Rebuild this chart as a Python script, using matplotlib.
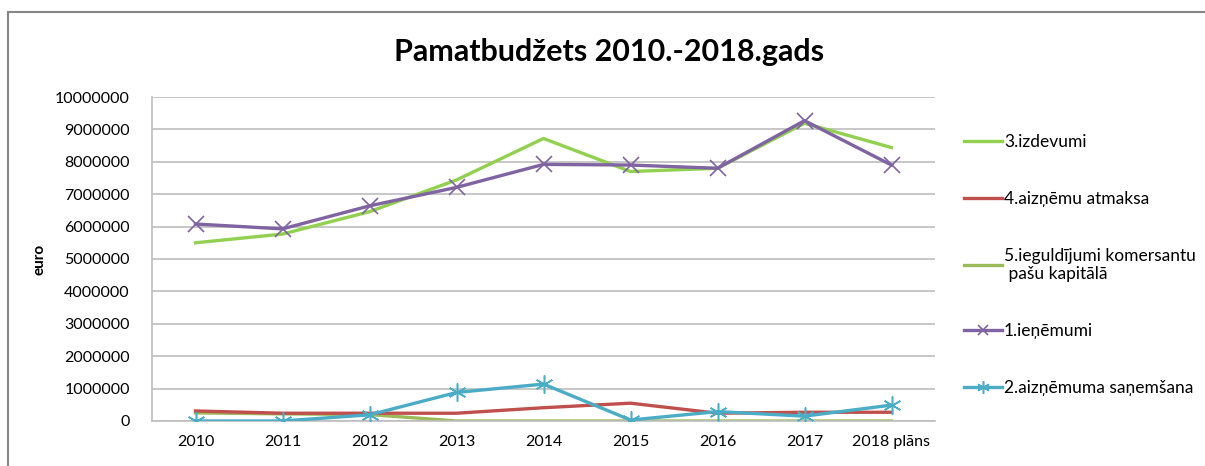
import matplotlib
matplotlib.use("Agg")
import matplotlib.pyplot as plt
from matplotlib.patches import Rectangle

plt.rcParams["font.family"] = ["Lato", "DejaVu Sans"]

years = ["2010", "2011", "2012", "2013", "2014", "2015", "2016", "2017", "2018 plāns"]

izdevumi = [5500000, 5770000, 6460000, 7440000, 8720000, 7700000, 7800000, 9190000, 8440000]
atmaksa = [310000, 240000, 240000, 240000, 410000, 550000, 240000, 270000, 270000]
ieguldijumi = [250000, 220000, 200000, 0, 0, 0, 0, 0, 0]
ienemumi = [6080000, 5930000, 6640000, 7210000, 7920000, 7900000, 7800000, 9270000, 7900000]
sanemsana = [0, 0, 190000, 880000, 1140000, 30000, 290000, 150000, 490000]

labels = [
    "3.izdevumi",
    "4.aizņēmu atmaksa",
    "5.ieguldījumi komersantu\n pašu kapitālā",
    "1.ieņēmumi",
    "2.aizņēmuma saņemšana",
]

W, H = 1205, 466
fig = plt.figure(figsize=(W / 100, H / 100), dpi=100)
fig.patches.append(Rectangle((8 / W, -0.1), 1.2, (H - 12) / H + 0.1, transform=fig.transFigure,
                             fill=False, edgecolor="#868686", linewidth=1.5))

ax = fig.add_axes([152 / W, 45 / H, 783 / W, 324 / H])
x = list(range(len(years)))
lw = 2.4
ax.plot(x, izdevumi, color="#92D050", lw=lw, label=labels[0], zorder=3)
ax.plot(x, atmaksa, color="#C0504D", lw=lw, label=labels[1], zorder=3)
ax.plot(x, ieguldijumi, color="#9BBB59", lw=lw, label=labels[2], zorder=2)
ax.plot(x, ienemumi, color="#8064A2", lw=lw, marker="x", markersize=11, markeredgewidth=1.2,
        label=labels[3], zorder=4)
ax.plot(x, sanemsana, color="#4BACC6", lw=lw, marker=(6, 2, 0), markersize=13, markeredgewidth=1.1,
        label=labels[4], zorder=4)

ax.set_xlim(-0.5, len(years) - 0.5)
ax.set_ylim(0, 10000000)
ax.set_yticks(range(0, 10000001, 1000000))
ax.set_yticklabels([str(v) for v in range(0, 10000001, 1000000)])
ax.set_xticks(x)
ax.set_xticklabels(years)
ax.grid(axis="y", color="#BEBEBE", linewidth=1.2)
ax.set_axisbelow(True)
for s in ["top", "right"]:
    ax.spines[s].set_visible(False)
for s in ["left", "bottom"]:
    ax.spines[s].set_color("#BEBEBE")
    ax.spines[s].set_linewidth(1.2)
ax.tick_params(length=0, labelsize=11.5, colors="#000000", pad=10)
ax.tick_params(axis="y", pad=16)
ax.set_ylabel("euro", fontsize=11, fontweight="bold", labelpad=6)

fig.text(609 / W, 1 - 52 / H, "Pamatbudžets 2010.-2018.gads", ha="center", va="center",
         fontsize=22, fontweight="bold")

leg = ax.legend(loc="upper left", bbox_to_anchor=(957 / W, 1 - 127 / H), bbox_transform=fig.transFigure,
                frameon=False, fontsize=12.5, handlelength=2.2, handletextpad=0.1, labelspacing=2.35,
                borderaxespad=0, markerscale=0.7)

fig.savefig("out.png", dpi=100)
